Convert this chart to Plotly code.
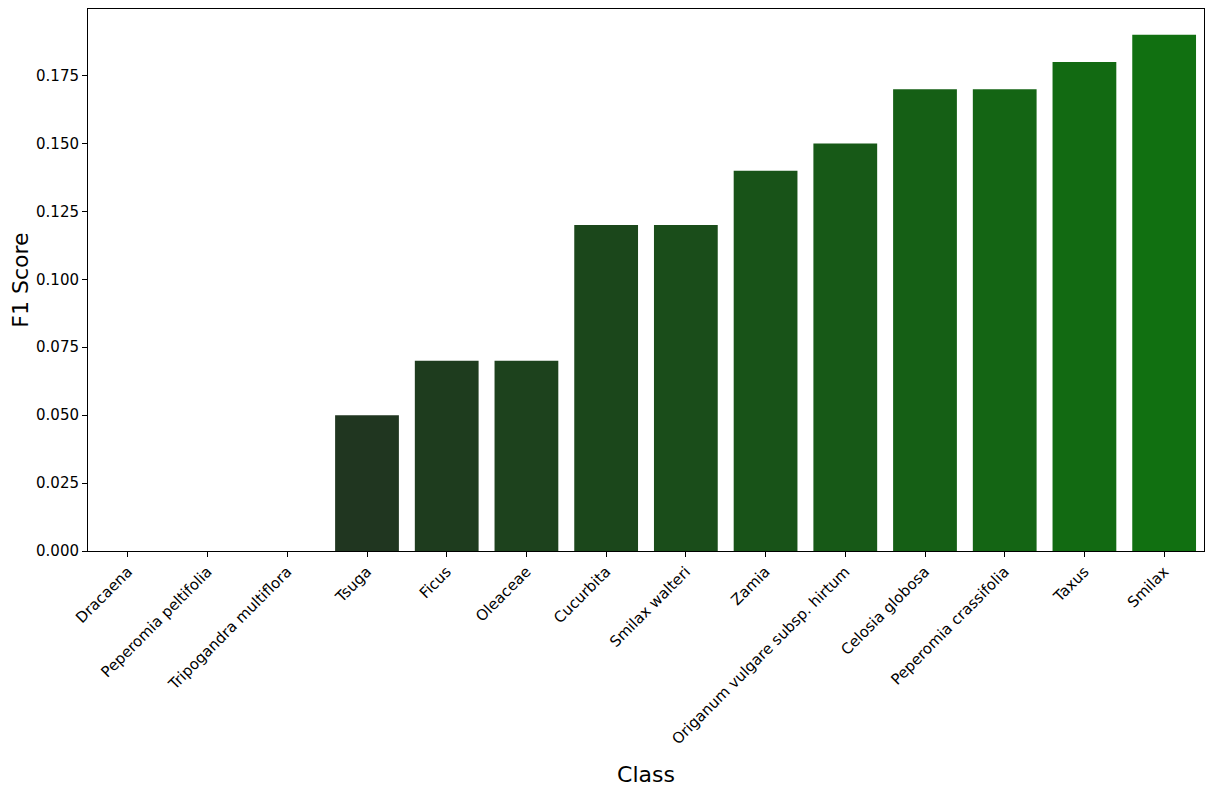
import plotly.graph_objects as go

# F1 score per class, sorted ascending
classes = ["Dracaena", "Peperomia peltifolia", "Tripogandra multiflora", "Tsuga",
           "Ficus", "Oleaceae", "Cucurbita", "Smilax walteri", "Zamia",
           "Origanum vulgare subsp. hirtum", "Celosia globosa",
           "Peperomia crassifolia", "Taxus", "Smilax"]
f1_scores = [0.0, 0.0, 0.0, 0.05, 0.07, 0.07, 0.12, 0.12, 0.14, 0.15,
             0.17, 0.17, 0.18, 0.19]
y_ticks = [0.0, 0.025, 0.05, 0.075, 0.1, 0.125, 0.15, 0.175]

# dark -> green palette, one colour per bar
bar_colors = ["#242524", "#232b23", "#213021", "#203620", "#1e3c1e", "#1d421d",
              "#1b471b", "#1a4d1a", "#185318", "#175917", "#155f15", "#146514",
              "#126a12", "#117011"]

fig = go.Figure()
fig.add_trace(go.Bar(x=classes, y=f1_scores, width=0.8,
                     marker=dict(color=bar_colors, line=dict(width=0))))

# page body has an ~8px margin, so margins are trimmed to compensate
fig.update_layout(
    width=1206, height=787,
    margin=dict(l=80, r=10, t=1, b=244),
    plot_bgcolor="white", paper_bgcolor="white",
    font=dict(family="DejaVu Sans", size=15, color="black"),
    showlegend=False,
    xaxis=dict(
        title=dict(text="Class", font=dict(size=22), standoff=19),
        tickangle=-45, ticks="outside", ticklen=5, tickcolor="black",
        showline=True, linecolor="black", linewidth=1, mirror=True,
        range=[-0.5, 13.5], showgrid=False,
    ),
    yaxis=dict(
        title=dict(text="F1 Score", font=dict(size=22), standoff=10),
        range=[0, 0.1995], tickvals=y_ticks, tickformat=".3f",
        ticks="outside", ticklen=5, tickcolor="black",
        showline=True, linecolor="black", linewidth=1, mirror=True,
        showgrid=False, zeroline=False,
    ),
)

fig.write_html("out.html")
